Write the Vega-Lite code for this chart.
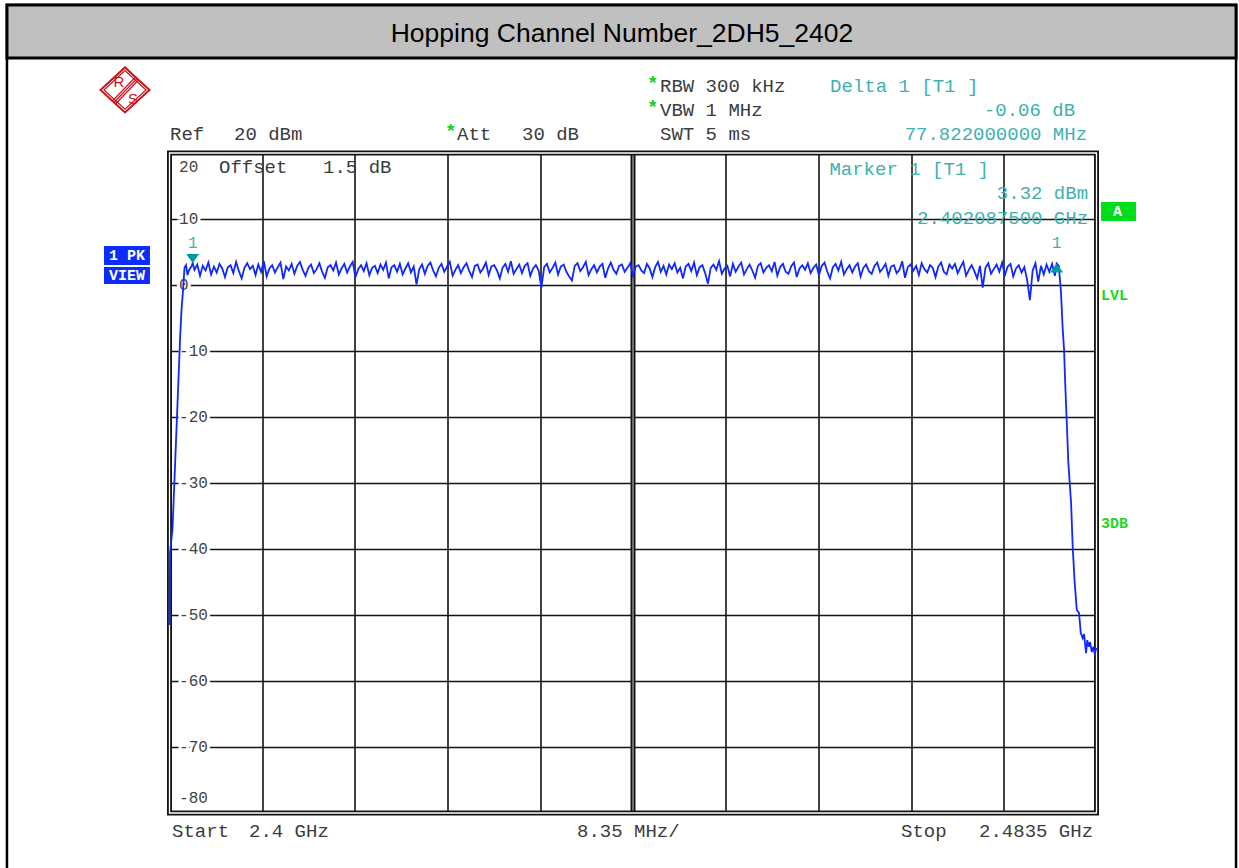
{
 "$schema": "https://vega.github.io/schema/vega-lite/v6.json",
 "width": 927,
 "height": 660,
 "autosize": {"type": "none"},
 "padding": {"left": 169.5, "top": 153, "right": 142.5, "bottom": 55},
 "background": "white",
 "config": {
  "view": {"stroke": null},
  "axis": {"labels": false, "ticks": false, "domain": false, "grid": true, "gridColor": "#141414", "gridWidth": 1.6, "gridOpacity": 1},
  "text": {"font": "Liberation Mono", "fontSize": 19, "baseline": "middle", "align": "left", "color": "#3c3c3c"}
 },
 "data": {"values": [{}]},
 "layer": [
  {"mark": {"type": "rect", "fillOpacity": 0, "stroke": "#000", "strokeWidth": 2.5}, "encoding": {"x": {"datum": 2385.36}, "x2": {"datum": 2496.07}, "y": {"datum": 42.42}, "y2": {"datum": -89.5}}},
  {"mark": {"type": "rect", "fill": "#c0c0c0", "stroke": "#000", "strokeWidth": 3}, "encoding": {"x": {"datum": 2385.36}, "x2": {"datum": 2496.07}, "y": {"datum": 42.42}, "y2": {"datum": 34.39}}},
  {"mark": {"type": "text", "text": "Hopping Channel Number_2DH5_2402", "font": "Liberation Sans", "fontSize": 26.5, "align": "center", "baseline": "alphabetic", "color": "#000"}, "encoding": {"x": {"datum": 2440.76}, "y": {"datum": 36.82}}},
  {"mark": {"type": "point", "shape": "M -1 0 L 0 -0.92 L 1 0 L 0 0.92 Z", "size": 2401, "filled": false, "stroke": "#c8141e", "strokeWidth": 2, "opacity": 1}, "encoding": {"x": {"datum": 2395.99}, "y": {"datum": 29.55}}},
  {"mark": {"type": "point", "shape": "M -1 0 L 0 -0.92 L 1 0 L 0 0.92 Z", "size": 1764, "filled": false, "stroke": "#c8141e", "strokeWidth": 1.2, "opacity": 1}, "encoding": {"x": {"datum": 2395.99}, "y": {"datum": 29.55}}},
  {"mark": {"type": "rule", "color": "#c8141e", "strokeWidth": 1.2}, "encoding": {"x": {"datum": 2397.027}, "x2": {"datum": 2394.956}, "y": {"datum": 31.21}, "y2": {"datum": 27.58}}},
  {"mark": {"type": "rule", "color": "#c8141e", "strokeWidth": 1.2}, "encoding": {"x": {"datum": 2397.162}, "x2": {"datum": 2395.091}, "y": {"datum": 30.98}, "y2": {"datum": 27.35}}},
  {"mark": {"type": "rule", "color": "#c8141e", "strokeWidth": 1.2}, "encoding": {"x": {"datum": 2396.892}, "x2": {"datum": 2394.82}, "y": {"datum": 31.44}, "y2": {"datum": 27.8}}},
  {"mark": {"type": "text", "text": "R", "font": "Liberation Sans", "fontSize": 15, "align": "center", "color": "#c8141e"}, "encoding": {"x": {"datum": 2395.451}, "y": {"datum": 30.76}}},
  {"mark": {"type": "text", "text": "S", "font": "Liberation Sans", "fontSize": 15, "align": "center", "color": "#c8141e"}, "encoding": {"x": {"datum": 2396.712}, "y": {"datum": 28.18}}},
  {"mark": {"type": "text", "text": "Ref"}, "encoding": {"x": {"datum": 2400.05}, "y": {"datum": 22.88}}},
  {"mark": {"type": "text", "text": "20 dBm"}, "encoding": {"x": {"datum": 2405.81}, "y": {"datum": 22.88}}},
  {"mark": {"type": "text", "text": "*", "color": "#14d214", "fontWeight": "bold"}, "encoding": {"x": {"datum": 2424.82}, "y": {"datum": 23.3}}},
  {"mark": {"type": "text", "text": "Att"}, "encoding": {"x": {"datum": 2425.9}, "y": {"datum": 22.88}}},
  {"mark": {"type": "text", "text": "30 dB"}, "encoding": {"x": {"datum": 2431.75}, "y": {"datum": 22.88}}},
  {"mark": {"type": "text", "text": "*", "color": "#14d214", "fontWeight": "bold"}, "encoding": {"x": {"datum": 2443.01}, "y": {"datum": 30.6}}},
  {"mark": {"type": "text", "text": "RBW 300 kHz"}, "encoding": {"x": {"datum": 2444.18}, "y": {"datum": 30.15}}},
  {"mark": {"type": "text", "text": "*", "color": "#14d214", "fontWeight": "bold"}, "encoding": {"x": {"datum": 2443.01}, "y": {"datum": 26.97}}},
  {"mark": {"type": "text", "text": "VBW 1 MHz"}, "encoding": {"x": {"datum": 2444.18}, "y": {"datum": 26.52}}},
  {"mark": {"type": "text", "text": "SWT 5 ms"}, "encoding": {"x": {"datum": 2444.18}, "y": {"datum": 22.88}}},
  {"mark": {"type": "text", "text": "Delta 1 [T1 ]", "color": "#3fb1ae"}, "encoding": {"x": {"datum": 2459.5}, "y": {"datum": 30.15}}},
  {"mark": {"type": "text", "text": "-0.06 dB", "color": "#3fb1ae", "align": "right"}, "encoding": {"x": {"datum": 2481.57}, "y": {"datum": 26.52}}},
  {"mark": {"type": "text", "text": "77.822000000 MHz", "color": "#3fb1ae", "align": "right"}, "encoding": {"x": {"datum": 2482.65}, "y": {"datum": 22.88}}},
  {
   "data": {"values": [{"v": 10, "t": "10"}, {"v": 0, "t": "0"}, {"v": -10, "t": "-10"}, {"v": -20, "t": "-20"}, {"v": -30, "t": "-30"}, {"v": -40, "t": "-40"}, {"v": -50, "t": "-50"}, {"v": -60, "t": "-60"}, {"v": -70, "t": "-70"}]},
   "mark": {"type": "text", "fontSize": 16, "stroke": "white", "strokeWidth": 6, "color": "white"},
   "encoding": {"x": {"datum": 2400.86}, "y": {"field": "v", "type": "quantitative"}, "text": {"field": "t", "type": "nominal"}}
  },
  {
   "data": {"values": [{"v": 10, "t": "10"}, {"v": 0, "t": "0"}, {"v": -10, "t": "-10"}, {"v": -20, "t": "-20"}, {"v": -30, "t": "-30"}, {"v": -40, "t": "-40"}, {"v": -50, "t": "-50"}, {"v": -60, "t": "-60"}, {"v": -70, "t": "-70"}]},
   "mark": {"type": "text", "fontSize": 16, "color": "#444"},
   "encoding": {"x": {"datum": 2400.86}, "y": {"field": "v", "type": "quantitative"}, "text": {"field": "t", "type": "nominal"}}
  },
  {"mark": {"type": "text", "text": "20", "fontSize": 16, "color": "#444"}, "encoding": {"x": {"datum": 2400.86}, "y": {"datum": 17.88}}},
  {"mark": {"type": "text", "text": "-80", "fontSize": 16, "color": "#444"}, "encoding": {"x": {"datum": 2400.86}, "y": {"datum": -77.73}}},
  {"mark": {"type": "text", "text": "Offset"}, "encoding": {"x": {"datum": 2404.46}, "y": {"datum": 17.88}}},
  {"mark": {"type": "text", "text": "1.5 dB"}, "encoding": {"x": {"datum": 2413.83}, "y": {"datum": 17.88}}},
  {"mark": {"type": "text", "text": "Marker 1 [T1 ]", "color": "#3fb1ae"}, "encoding": {"x": {"datum": 2459.44}, "y": {"datum": 17.58}}},
  {"mark": {"type": "text", "text": "3.32 dBm", "color": "#3fb1ae", "align": "right"}, "encoding": {"x": {"datum": 2482.74}, "y": {"datum": 13.94}}},
  {"mark": {"type": "text", "text": "2.402087500 GHz", "color": "#3fb1ae", "align": "right"}, "encoding": {"x": {"datum": 2482.74}, "y": {"datum": 10.15}}},
  {"mark": {"type": "rule", "color": "#141414", "strokeWidth": 5}, "encoding": {"x": {"datum": 2441.75}}},
  {"mark": {"type": "rule", "color": "#8a8a8a", "strokeWidth": 1.5}, "encoding": {"x": {"datum": 2441.75}}},
  {"mark": {"type": "rect", "fillOpacity": 0, "stroke": "#141414", "strokeWidth": 5}, "encoding": {"x": {"datum": 2400}, "x2": {"datum": 2483.5}, "y": {"datum": -80}, "y2": {"datum": 20}}},
  {"mark": {"type": "rect", "fillOpacity": 0, "stroke": "#ffffff", "strokeWidth": 1.3}, "encoding": {"x": {"datum": 2400}, "x2": {"datum": 2483.5}, "y": {"datum": -80}, "y2": {"datum": 20}}},
  {
   "data": {"values": [
    {"f": 2400.0, "p": -51.5}, {"f": 2400.05, "p": -40.5}, {"f": 2400.27, "p": -37.0}, {"f": 2400.41, "p": -31.1}, {"f": 2400.59, "p": -23.5}, {"f": 2400.77, "p": -15.9}, {"f": 2400.95, "p": -8.3}, {"f": 2401.08, "p": -3.8}, {"f": 2401.22, "p": -0.8}, {"f": 2401.35, "p": 2.6}, {"f": 2401.49, "p": 3.0}, {"f": 2401.62, "p": 1.5},
    {"f": 2401.75, "p": 2.2}, {"f": 2402.0, "p": 2.9}, {"f": 2402.0875, "p": 3.32}, {"f": 2402.25, "p": 2.3}, {"f": 2402.5, "p": 3.1}, {"f": 2402.75, "p": 1.4}, {"f": 2403.0, "p": 2.9}, {"f": 2403.25, "p": 2.2}, {"f": 2403.5, "p": 3.4}, {"f": 2403.75, "p": 1.6}, {"f": 2404.0, "p": 2.8},
    {"f": 2404.25, "p": 1.9}, {"f": 2404.5, "p": 3.2}, {"f": 2404.75, "p": 2.5}, {"f": 2405.0, "p": 1.2}, {"f": 2405.25, "p": 2.7}, {"f": 2405.5, "p": 3.0}, {"f": 2405.75, "p": 1.8}, {"f": 2406.0, "p": 3.5}, {"f": 2406.25, "p": 2.1}, {"f": 2406.5, "p": 1.0},
    {"f": 2406.75, "p": 2.6}, {"f": 2407.0, "p": 3.3}, {"f": 2407.25, "p": 2.4}, {"f": 2407.5, "p": 2.9}, {"f": 2407.75, "p": 1.5}, {"f": 2408.0, "p": 3.1}, {"f": 2408.25, "p": 2.0}, {"f": 2408.5, "p": 3.6}, {"f": 2408.75, "p": 1.3}, {"f": 2409.0, "p": 2.5},
    {"f": 2409.25, "p": 3.0}, {"f": 2409.5, "p": 1.9}, {"f": 2409.75, "p": 2.7}, {"f": 2410.0, "p": 3.4}, {"f": 2410.25, "p": 0.9}, {"f": 2410.5, "p": 2.8}, {"f": 2410.75, "p": 2.2}, {"f": 2411.0, "p": 3.2}, {"f": 2411.25, "p": 1.7}, {"f": 2411.5, "p": 2.9},
    {"f": 2411.75, "p": 3.5}, {"f": 2412.0, "p": 2.3}, {"f": 2412.25, "p": 1.4}, {"f": 2412.5, "p": 2.6}, {"f": 2412.75, "p": 3.1}, {"f": 2413.0, "p": 1.8}, {"f": 2413.25, "p": 2.4}, {"f": 2413.5, "p": 3.3}, {"f": 2413.75, "p": 2.0}, {"f": 2414.0, "p": 1.1},
    {"f": 2414.25, "p": 2.7}, {"f": 2414.5, "p": 3.0}, {"f": 2414.75, "p": 2.2}, {"f": 2415.0, "p": 3.4}, {"f": 2415.25, "p": 1.6}, {"f": 2415.5, "p": 2.5}, {"f": 2415.75, "p": 3.2}, {"f": 2416.0, "p": 1.9}, {"f": 2416.25, "p": 2.8}, {"f": 2416.5, "p": 3.5},
    {"f": 2416.75, "p": 1.2}, {"f": 2417.0, "p": 2.4}, {"f": 2417.25, "p": 3.0}, {"f": 2417.5, "p": 2.1}, {"f": 2417.75, "p": 3.3}, {"f": 2418.0, "p": 1.5}, {"f": 2418.25, "p": 2.6}, {"f": 2418.5, "p": 2.9}, {"f": 2418.75, "p": 1.8}, {"f": 2419.0, "p": 3.1},
    {"f": 2419.25, "p": 2.3}, {"f": 2419.5, "p": 3.4}, {"f": 2419.75, "p": 1.0}, {"f": 2420.0, "p": 2.7}, {"f": 2420.25, "p": 3.0}, {"f": 2420.5, "p": 2.0}, {"f": 2420.75, "p": 3.2}, {"f": 2421.0, "p": 1.6}, {"f": 2421.25, "p": 2.5}, {"f": 2421.5, "p": 3.3},
    {"f": 2421.75, "p": 1.9}, {"f": 2422.0, "p": 2.8}, {"f": 2422.25, "p": 0.1}, {"f": 2422.5, "p": 2.4}, {"f": 2422.75, "p": 3.1}, {"f": 2423.0, "p": 1.7}, {"f": 2423.25, "p": 2.9}, {"f": 2423.5, "p": 3.4}, {"f": 2423.75, "p": 2.2}, {"f": 2424.0, "p": 1.3},
    {"f": 2424.25, "p": 2.6}, {"f": 2424.5, "p": 3.2}, {"f": 2424.75, "p": 2.0}, {"f": 2425.0, "p": 2.8}, {"f": 2425.25, "p": 3.5}, {"f": 2425.5, "p": 1.4}, {"f": 2425.75, "p": 2.3}, {"f": 2426.0, "p": 3.0}, {"f": 2426.25, "p": 1.8}, {"f": 2426.5, "p": 2.7},
    {"f": 2426.75, "p": 3.3}, {"f": 2427.0, "p": 2.1}, {"f": 2427.25, "p": 1.2}, {"f": 2427.5, "p": 2.9}, {"f": 2427.75, "p": 3.1}, {"f": 2428.0, "p": 1.9}, {"f": 2428.25, "p": 2.5}, {"f": 2428.5, "p": 3.4}, {"f": 2428.75, "p": 1.5}, {"f": 2429.0, "p": 2.8},
    {"f": 2429.25, "p": 3.0}, {"f": 2429.5, "p": 2.2}, {"f": 2429.75, "p": 1.0}, {"f": 2430.0, "p": 2.6}, {"f": 2430.25, "p": 3.2}, {"f": 2430.5, "p": 2.0}, {"f": 2430.75, "p": 3.6}, {"f": 2431.0, "p": 1.7}, {"f": 2431.25, "p": 2.4}, {"f": 2431.5, "p": 3.1},
    {"f": 2431.75, "p": 1.8}, {"f": 2432.0, "p": 2.9}, {"f": 2432.25, "p": 3.3}, {"f": 2432.5, "p": 1.4}, {"f": 2432.75, "p": 2.5}, {"f": 2433.0, "p": 3.0}, {"f": 2433.25, "p": 2.2}, {"f": 2433.5, "p": -0.4}, {"f": 2433.75, "p": 2.7}, {"f": 2434.0, "p": 3.2},
    {"f": 2434.25, "p": 1.9}, {"f": 2434.5, "p": 2.6}, {"f": 2434.75, "p": 3.4}, {"f": 2435.0, "p": 1.6}, {"f": 2435.25, "p": 2.8}, {"f": 2435.5, "p": 3.1}, {"f": 2435.75, "p": 2.0}, {"f": 2436.0, "p": 1.3}, {"f": 2436.25, "p": 0.7}, {"f": 2436.5, "p": 2.9},
    {"f": 2436.75, "p": 3.3}, {"f": 2437.0, "p": 2.1}, {"f": 2437.25, "p": 2.7}, {"f": 2437.5, "p": 3.5}, {"f": 2437.75, "p": 1.5}, {"f": 2438.0, "p": 2.4}, {"f": 2438.25, "p": 3.0}, {"f": 2438.5, "p": 1.9}, {"f": 2438.75, "p": 2.8}, {"f": 2439.0, "p": 3.2},
    {"f": 2439.25, "p": 1.1}, {"f": 2439.5, "p": 2.5}, {"f": 2439.75, "p": 3.4}, {"f": 2440.0, "p": 2.3}, {"f": 2440.25, "p": 1.7}, {"f": 2440.5, "p": 2.9}, {"f": 2440.75, "p": 3.1}, {"f": 2441.0, "p": 2.0}, {"f": 2441.25, "p": 2.6}, {"f": 2441.5, "p": 3.3},
    {"f": 2441.75, "p": 1.4}, {"f": 2442.0, "p": 2.8}, {"f": 2442.25, "p": 3.0}, {"f": 2442.5, "p": 2.2}, {"f": 2442.75, "p": 1.8}, {"f": 2443.0, "p": 3.2}, {"f": 2443.25, "p": 2.5}, {"f": 2443.5, "p": 1.2}, {"f": 2443.75, "p": 2.7}, {"f": 2444.0, "p": 3.5},
    {"f": 2444.25, "p": 2.0}, {"f": 2444.5, "p": 2.9}, {"f": 2444.75, "p": 1.6}, {"f": 2445.0, "p": 3.1}, {"f": 2445.25, "p": 2.4}, {"f": 2445.5, "p": 3.3}, {"f": 2445.75, "p": 1.9}, {"f": 2446.0, "p": 2.6}, {"f": 2446.25, "p": 1.0}, {"f": 2446.5, "p": 2.8},
    {"f": 2446.75, "p": 3.2}, {"f": 2447.0, "p": 2.1}, {"f": 2447.25, "p": 3.4}, {"f": 2447.5, "p": 1.5}, {"f": 2447.75, "p": 2.7}, {"f": 2448.0, "p": 3.0}, {"f": 2448.25, "p": 1.8}, {"f": 2448.5, "p": 0.2}, {"f": 2448.75, "p": 2.6}, {"f": 2449.0, "p": 3.1},
    {"f": 2449.25, "p": 2.3}, {"f": 2449.5, "p": 3.6}, {"f": 2449.75, "p": 1.7}, {"f": 2450.0, "p": 2.5}, {"f": 2450.25, "p": 2.9}, {"f": 2450.5, "p": 1.3}, {"f": 2450.75, "p": 3.2}, {"f": 2451.0, "p": 2.0}, {"f": 2451.25, "p": 2.8}, {"f": 2451.5, "p": 3.4},
    {"f": 2451.75, "p": 1.6}, {"f": 2452.0, "p": 2.4}, {"f": 2452.25, "p": 3.1}, {"f": 2452.5, "p": 2.2}, {"f": 2452.75, "p": 1.1}, {"f": 2453.0, "p": 2.9}, {"f": 2453.25, "p": 3.3}, {"f": 2453.5, "p": 1.9}, {"f": 2453.75, "p": 2.6}, {"f": 2454.0, "p": 3.0},
    {"f": 2454.25, "p": 2.1}, {"f": 2454.5, "p": 3.5}, {"f": 2454.75, "p": 1.4}, {"f": 2455.0, "p": 2.7}, {"f": 2455.25, "p": 3.2}, {"f": 2455.5, "p": 2.0}, {"f": 2455.75, "p": 1.7}, {"f": 2456.0, "p": 2.8}, {"f": 2456.25, "p": 3.4}, {"f": 2456.5, "p": 1.2},
    {"f": 2456.75, "p": 2.5}, {"f": 2457.0, "p": 3.0}, {"f": 2457.25, "p": 2.3}, {"f": 2457.5, "p": 3.3}, {"f": 2457.75, "p": 1.8}, {"f": 2458.0, "p": 2.6}, {"f": 2458.25, "p": 3.1}, {"f": 2458.5, "p": 1.5}, {"f": 2458.75, "p": 2.9}, {"f": 2459.0, "p": 3.4},
    {"f": 2459.25, "p": 2.0}, {"f": 2459.5, "p": 1.0}, {"f": 2459.75, "p": 2.7}, {"f": 2460.0, "p": 3.2}, {"f": 2460.25, "p": 2.2}, {"f": 2460.5, "p": 3.5}, {"f": 2460.75, "p": 1.6}, {"f": 2461.0, "p": 2.4}, {"f": 2461.25, "p": 3.0}, {"f": 2461.5, "p": 1.9},
    {"f": 2461.75, "p": 2.8}, {"f": 2462.0, "p": 3.3}, {"f": 2462.25, "p": 1.3}, {"f": 2462.5, "p": 2.6}, {"f": 2462.75, "p": 3.1}, {"f": 2463.0, "p": 2.1}, {"f": 2463.25, "p": 1.7}, {"f": 2463.5, "p": 2.9}, {"f": 2463.75, "p": 3.4}, {"f": 2464.0, "p": 2.0},
    {"f": 2464.25, "p": 2.5}, {"f": 2464.5, "p": 3.2}, {"f": 2464.75, "p": 1.4}, {"f": 2465.0, "p": 2.8}, {"f": 2465.25, "p": 3.0}, {"f": 2465.5, "p": 1.8}, {"f": 2465.75, "p": 2.3}, {"f": 2466.0, "p": 3.6}, {"f": 2466.25, "p": 1.1}, {"f": 2466.5, "p": 2.7},
    {"f": 2466.75, "p": 3.1}, {"f": 2467.0, "p": 2.2}, {"f": 2467.25, "p": 2.9}, {"f": 2467.5, "p": 1.5}, {"f": 2467.75, "p": 3.3}, {"f": 2468.0, "p": 2.4}, {"f": 2468.25, "p": 1.9}, {"f": 2468.5, "p": 3.0}, {"f": 2468.75, "p": 2.6}, {"f": 2469.0, "p": 1.2},
    {"f": 2469.25, "p": 2.8}, {"f": 2469.5, "p": 3.4}, {"f": 2469.75, "p": 2.0}, {"f": 2470.0, "p": 1.6}, {"f": 2470.25, "p": 3.1}, {"f": 2470.5, "p": 2.5}, {"f": 2470.75, "p": 3.2}, {"f": 2471.0, "p": 1.8}, {"f": 2471.25, "p": 2.7}, {"f": 2471.5, "p": 3.5},
    {"f": 2471.75, "p": 1.4}, {"f": 2472.0, "p": 2.3}, {"f": 2472.25, "p": 3.0}, {"f": 2472.5, "p": 2.1}, {"f": 2472.75, "p": 1.0}, {"f": 2473.0, "p": 2.9}, {"f": 2473.25, "p": -0.4}, {"f": 2473.5, "p": 2.6}, {"f": 2473.75, "p": 3.3}, {"f": 2474.0, "p": 1.7},
    {"f": 2474.25, "p": 2.4}, {"f": 2474.5, "p": 3.1}, {"f": 2474.75, "p": 2.0}, {"f": 2475.0, "p": 3.4}, {"f": 2475.25, "p": 1.5}, {"f": 2475.5, "p": 2.8}, {"f": 2475.75, "p": 3.2}, {"f": 2476.0, "p": 1.3}, {"f": 2476.25, "p": 2.5}, {"f": 2476.5, "p": 3.0},
    {"f": 2476.75, "p": 1.9}, {"f": 2477.0, "p": 2.7}, {"f": 2477.25, "p": 0.8}, {"f": 2477.5, "p": -2.3}, {"f": 2477.75, "p": 2.2}, {"f": 2478.0, "p": 3.3}, {"f": 2478.25, "p": 0.5}, {"f": 2478.5, "p": 2.9}, {"f": 2478.75, "p": 1.6}, {"f": 2479.0, "p": 3.1},
    {"f": 2479.25, "p": 2.0}, {"f": 2479.5, "p": 3.2}, {"f": 2479.75, "p": 1.4}, {"f": 2479.91, "p": 3.26}, {"f": 2480.1, "p": 2.9},
    {"f": 2480.3, "p": -1.0}, {"f": 2480.45, "p": -6.5}, {"f": 2480.58, "p": -9.85}, {"f": 2480.67, "p": -14.4}, {"f": 2480.85, "p": -22.0}, {"f": 2480.96, "p": -26.8}, {"f": 2481.21, "p": -33.0}, {"f": 2481.36, "p": -39.8}, {"f": 2481.52, "p": -44.7}, {"f": 2481.72, "p": -49.2},
    {"f": 2481.93, "p": -49.7}, {"f": 2482.08, "p": -52.7}, {"f": 2482.26, "p": -53.5}, {"f": 2482.38, "p": -52.9}, {"f": 2482.56, "p": -55.8}, {"f": 2482.67, "p": -53.8}, {"f": 2482.8, "p": -54.8}, {"f": 2482.92, "p": -54.1}, {"f": 2483.07, "p": -55.6}, {"f": 2483.22, "p": -54.8}, {"f": 2483.33, "p": -55.8}, {"f": 2483.5, "p": -55.0}
   ]},
   "mark": {"type": "line", "color": "#1028ff", "strokeWidth": 1.8},
   "encoding": {
    "x": {"field": "f", "type": "quantitative", "scale": {"domain": [2400, 2483.5], "nice": false, "zero": false}, "axis": {"values": [2408.35, 2416.7, 2425.05, 2433.4, 2441.75, 2450.1, 2458.45, 2466.8, 2475.15], "title": null}},
    "y": {"field": "p", "type": "quantitative", "scale": {"domain": [-80, 20], "nice": false, "zero": false}, "axis": {"values": [-70, -60, -50, -40, -30, -20, -10, 0, 10], "title": null}}
   }
  },
  {"mark": {"type": "point", "shape": "M -1 -1.4 L 1 -1.4 L 0 0 Z", "size": 169, "filled": true, "color": "#009a9a", "opacity": 1}, "encoding": {"x": {"datum": 2402.0875}, "y": {"datum": 3.32}}},
  {"mark": {"type": "point", "shape": "M 0 0 L 1 1.4 L -1 1.4 Z", "size": 169, "filled": true, "color": "#009a9a", "opacity": 1}, "encoding": {"x": {"datum": 2479.91}, "y": {"datum": 3.26}}},
  {"mark": {"type": "text", "text": "1", "fontSize": 16, "align": "center", "color": "#3fb1ae"}, "encoding": {"x": {"datum": 2402.0875}, "y": {"datum": 6.29}}},
  {"mark": {"type": "text", "text": "1", "fontSize": 16, "align": "center", "color": "#3fb1ae"}, "encoding": {"x": {"datum": 2479.91}, "y": {"datum": 6.29}}},
  {"mark": {"type": "rect", "fill": "#0a2cff"}, "encoding": {"x": {"datum": 2394.1}, "x2": {"datum": 2398.24}, "y": {"datum": 5.91}, "y2": {"datum": 3.03}}},
  {"mark": {"type": "rect", "fill": "#0a2cff"}, "encoding": {"x": {"datum": 2394.1}, "x2": {"datum": 2398.24}, "y": {"datum": 2.73}, "y2": {"datum": 0.15}}},
  {"mark": {"type": "text", "text": "1 PK", "fontSize": 15, "fontWeight": "bold", "align": "center", "color": "#ffffff"}, "encoding": {"x": {"datum": 2396.17}, "y": {"datum": 4.47}}},
  {"mark": {"type": "text", "text": "VIEW", "fontSize": 15, "fontWeight": "bold", "align": "center", "color": "#ffffff"}, "encoding": {"x": {"datum": 2396.17}, "y": {"datum": 1.44}}},
  {"mark": {"type": "rect", "fill": "#00dd1a"}, "encoding": {"x": {"datum": 2483.91}, "x2": {"datum": 2487.06}, "y": {"datum": 12.58}, "y2": {"datum": 9.7}}},
  {"mark": {"type": "text", "text": "A", "fontSize": 15, "fontWeight": "bold", "align": "center", "color": "#ffffff"}, "encoding": {"x": {"datum": 2485.4}, "y": {"datum": 11.14}}},
  {"mark": {"type": "text", "text": "LVL", "fontSize": 15, "fontWeight": "bold", "color": "#1ed81e"}, "encoding": {"x": {"datum": 2483.91}, "y": {"datum": -1.52}}},
  {"mark": {"type": "text", "text": "3DB", "fontSize": 15, "fontWeight": "bold", "color": "#1ed81e"}, "encoding": {"x": {"datum": 2483.91}, "y": {"datum": -36.06}}},
  {"mark": {"type": "text", "text": "Start"}, "encoding": {"x": {"datum": 2400.23}, "y": {"datum": -82.73}}},
  {"mark": {"type": "text", "text": "2.4 GHz"}, "encoding": {"x": {"datum": 2407.16}, "y": {"datum": -82.73}}},
  {"mark": {"type": "text", "text": "8.35 MHz/"}, "encoding": {"x": {"datum": 2436.71}, "y": {"datum": -82.73}}},
  {"mark": {"type": "text", "text": "Stop"}, "encoding": {"x": {"datum": 2465.89}, "y": {"datum": -82.73}}},
  {"mark": {"type": "text", "text": "2.4835 GHz", "align": "right"}, "encoding": {"x": {"datum": 2483.19}, "y": {"datum": -82.73}}}
 ]
}
